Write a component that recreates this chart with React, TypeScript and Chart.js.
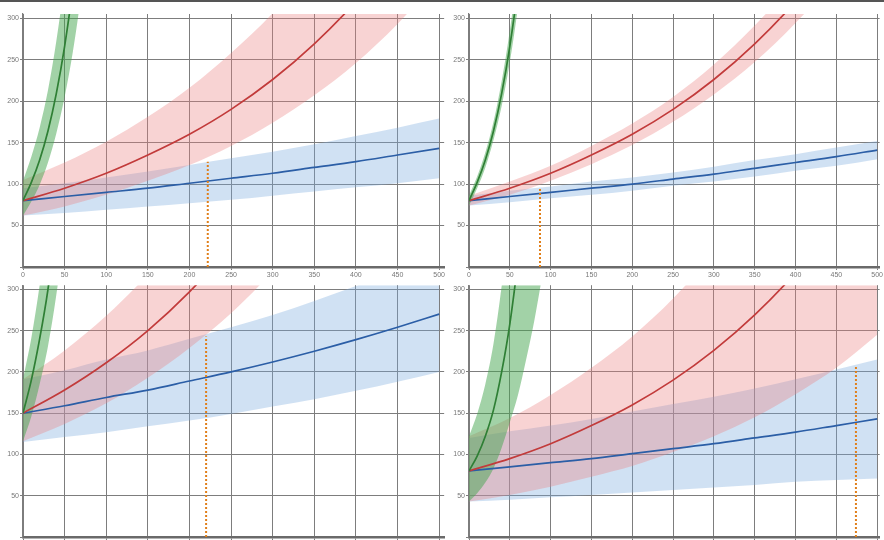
import React, { useEffect, useRef } from 'react';
import { Chart, registerables } from 'chart.js';

Chart.register(...registerables);

// shared x positions
const X_STEPS = [0, 50, 100, 150, 200, 250, 300, 350, 400, 450, 500];
const GREEN_X = [0, 10, 20, 30, 40, 50, 60, 70, 80, 90];

// top-left panel
const TL_GREEN = [80, 102, 129, 164, 209, 266, 338, 430, 550, 700];
const TL_GREEN_HI = [104, 133, 168, 213, 272, 346, 439, 559, 715, 910];
const TL_GREEN_LO = [62, 79, 99, 126, 161, 205, 260, 331, 424, 539];
const TL_RED = [80, 95, 113, 135, 160, 190, 226, 269, 320, 380, 453];
const TL_RED_HI = [105, 126, 151, 181, 216, 258, 306, 364, 433, 515, 612];
const TL_RED_LO = [62, 73, 87, 104, 123, 146, 174, 207, 246, 293, 349];
const TL_BLUE = [80, 85, 90, 95, 101, 107, 113, 120, 127, 135, 143];
const TL_BLUE_HI = [95, 101, 108, 115, 123, 131, 139, 148, 158, 168, 179];
const TL_BLUE_LO = [62, 65, 69, 73, 77, 81, 86, 91, 96, 101, 107];
const TL_MARK = [222, 127];

// top-right panel
const TR_GREEN = [80, 102, 129, 164, 209, 266, 338, 430, 550, 700];
const TR_GREEN_HI = [86, 109, 138, 175, 224, 285, 362, 460, 589, 749];
const TR_GREEN_LO = [74, 95, 120, 153, 194, 247, 314, 400, 512, 651];
const TR_RED = [80, 95, 113, 135, 160, 190, 226, 269, 320, 380, 453];
const TR_RED_HI = [86, 103, 122, 146, 173, 205, 244, 291, 346, 410, 489];
const TR_RED_LO = [74, 87, 104, 124, 147, 175, 208, 247, 294, 350, 417];
const TR_BLUE = [80, 85, 90, 95, 100, 106, 112, 119, 126, 133, 141];
const TR_BLUE_HI = [86, 92, 97, 103, 108, 114, 121, 129, 136, 144, 152];
const TR_BLUE_LO = [74, 78, 83, 87, 92, 98, 103, 109, 116, 122, 130];
const TR_MARK = [87, 96];

// bottom-left panel
const BL_GREEN = [150, 190, 240, 300, 380, 480, 600, 750, 940, 1180];
const BL_GREEN_HI = [191, 241, 305, 381, 483, 610, 762, 953, 1194, 1499];
const BL_GREEN_LO = [116, 146, 185, 231, 293, 370, 462, 578, 724, 909];
const BL_RED = [150, 178, 211, 250, 297, 352, 418, 496, 589, 699, 830];
const BL_RED_HI = [191, 226, 268, 318, 377, 447, 531, 630, 748, 888, 1054];
const BL_RED_LO = [116, 137, 162, 193, 229, 271, 322, 382, 454, 538, 639];
const BL_BLUE = [150, 159, 169, 178, 189, 200, 212, 225, 239, 254, 270];
const BL_BLUE_HI = [191, 202, 215, 226, 240, 254, 269, 286, 304, 323, 343];
const BL_BLUE_LO = [115, 121, 127, 134, 141, 149, 158, 167, 177, 188, 200];
const BL_MARK = [220, 243];

// bottom-right panel
const BR_GREEN = [80, 98, 122, 154, 200, 258, 335, 430, 550, 700];
const BR_GREEN_HI = [122, 149, 185, 234, 304, 392, 509, 654, 836, 1064];
const BR_GREEN_LO = [43, 53, 66, 83, 108, 139, 172, 215, 262, 318];
const BR_RED = [80, 95, 113, 135, 160, 190, 226, 269, 320, 380, 453];
const BR_RED_HI = [122, 144, 172, 205, 243, 289, 344, 409, 486, 578, 689];
const BR_RED_LO = [43, 51, 61, 73, 86, 103, 122, 145, 173, 205, 245];
const BR_BLUE = [80, 85, 90, 95, 101, 107, 113, 120, 127, 135, 143];
const BR_BLUE_HI = [120, 128, 135, 143, 152, 161, 170, 180, 191, 203, 215];
const BR_BLUE_LO = [43, 45, 48, 51, 54, 57, 60, 63, 67, 69, 71];
const BR_MARK = [474, 206];

const GREEN_LINE = '#2f7f35';
const GREEN_BAND = 'rgba(70, 165, 80, 0.5)';
const RED_LINE = '#c23b3b';
const RED_BAND = 'rgba(236, 130, 130, 0.35)';
const BLUE_LINE = '#2b5ea6';
const BLUE_BAND = 'rgba(120, 170, 222, 0.35)';
const MARK_COLOR = '#e07f1a';

type PanelData = {
  green: number[]; greenHi: number[]; greenLo: number[];
  red: number[]; redHi: number[]; redLo: number[];
  blue: number[]; blueHi: number[]; blueLo: number[];
  mark: number[];
};

const pts = (xs: number[], ys: number[]) => ys.map((y, i) => ({ x: xs[i], y }));

function buildDatasets(d: PanelData) {
  const band = (xs: number[], ys: number[], order: number, fill: any, bg: string) => ({
    data: pts(xs, ys),
    borderWidth: 0,
    borderColor: 'rgba(0,0,0,0)',
    backgroundColor: bg,
    pointRadius: 0,
    fill,
    order,
    cubicInterpolationMode: 'monotone' as const,
  });
  const line = (xs: number[], ys: number[], order: number, color: string) => ({
    data: pts(xs, ys),
    borderWidth: 1.7,
    borderColor: color,
    backgroundColor: color,
    pointRadius: 0,
    fill: false,
    order,
    cubicInterpolationMode: 'monotone' as const,
  });
  return [
    band(X_STEPS, d.blueLo, 30, false, BLUE_BAND),
    band(X_STEPS, d.blueHi, 30, '-1', BLUE_BAND),
    band(X_STEPS, d.redLo, 20, false, RED_BAND),
    band(X_STEPS, d.redHi, 20, '-1', RED_BAND),
    band(GREEN_X, d.greenLo, 10, false, GREEN_BAND),
    band(GREEN_X, d.greenHi, 10, '-1', GREEN_BAND),
    line(X_STEPS, d.blue, 5, BLUE_LINE),
    line(X_STEPS, d.red, 4, RED_LINE),
    line(GREEN_X, d.green, 3, GREEN_LINE),
    {
      data: [{ x: d.mark[0], y: 0 }, { x: d.mark[0], y: d.mark[1] }],
      borderWidth: 2,
      borderColor: MARK_COLOR,
      borderDash: [2, 2],
      pointRadius: 0,
      fill: false,
      order: 0,
    },
  ];
}

const FONT = { size: 7, family: "'Liberation Sans', Arial, sans-serif" };

function Panel(props: {
  left: number; top: number; width: number; height: number;
  padTop: number; padRight: number; xMax: number; xAxisH: number;
  data: PanelData;
}) {
  const ref = useRef<HTMLCanvasElement | null>(null);
  useEffect(() => {
    if (!ref.current) return;
    const chart = new Chart(ref.current, {
      type: 'line',
      data: { datasets: buildDatasets(props.data) as any },
      options: {
        animation: false,
        responsive: false,
        maintainAspectRatio: false,
        layout: { padding: { top: props.padTop, right: props.padRight, left: 0, bottom: 0 } },
        plugins: { legend: { display: false }, tooltip: { enabled: false } },
        scales: {
          x: {
            type: 'linear',
            min: 0,
            max: props.xMax,
            ticks: {
              stepSize: 50, includeBounds: false, font: FONT, color: '#777',
              padding: 1, maxRotation: 0, autoSkip: false,
            },
            grid: { color: '#7d7d7d', lineWidth: 1, tickLength: 3 },
            border: { color: '#6a6a6a', width: 2.5 },
            afterFit: (s: any) => { s.height = props.xAxisH; },
          },
          y: {
            type: 'linear',
            min: 0,
            max: 305,
            ticks: {
              stepSize: 50, includeBounds: false, font: FONT, color: '#777', padding: 1,
              callback: (v: any) => (v === 0 ? '' : String(v)),
            },
            grid: { color: '#7d7d7d', lineWidth: 1, tickLength: 3 },
            border: { color: '#7d7d7d', width: 1.2 },
            afterFit: (s: any) => { s.width = 23; },
          },
        },
      },
    });
    return () => chart.destroy();
  }, []);
  return (
    <canvas
      ref={ref}
      width={props.width}
      height={props.height}
      style={{ position: 'absolute', left: props.left, top: props.top, width: props.width, height: props.height }}
    />
  );
}

export default function App() {
  return (
    <div style={{ position: 'absolute', left: 0, top: 0, width: 884, height: 540, overflow: 'hidden', background: '#fff' }}>
      <Panel left={0} top={0} width={446} height={280} padTop={14} padRight={1} xMax={506} xAxisH={13}
        data={{ green: TL_GREEN, greenHi: TL_GREEN_HI, greenLo: TL_GREEN_LO, red: TL_RED, redHi: TL_RED_HI, redLo: TL_RED_LO, blue: TL_BLUE, blueHi: TL_BLUE_HI, blueLo: TL_BLUE_LO, mark: TL_MARK }} />
      <Panel left={446} top={0} width={438} height={280} padTop={14} padRight={0} xMax={503} xAxisH={13}
        data={{ green: TR_GREEN, greenHi: TR_GREEN_HI, greenLo: TR_GREEN_LO, red: TR_RED, redHi: TR_RED_HI, redLo: TR_RED_LO, blue: TR_BLUE, blueHi: TR_BLUE_HI, blueLo: TR_BLUE_LO, mark: TR_MARK }} />
      <Panel left={0} top={280} width={446} height={275} padTop={1} padRight={1} xMax={506} xAxisH={18}
        data={{ green: BL_GREEN, greenHi: BL_GREEN_HI, greenLo: BL_GREEN_LO, red: BL_RED, redHi: BL_RED_HI, redLo: BL_RED_LO, blue: BL_BLUE, blueHi: BL_BLUE_HI, blueLo: BL_BLUE_LO, mark: BL_MARK }} />
      <Panel left={446} top={280} width={438} height={275} padTop={1} padRight={0} xMax={503} xAxisH={18}
        data={{ green: BR_GREEN, greenHi: BR_GREEN_HI, greenLo: BR_GREEN_LO, red: BR_RED, redHi: BR_RED_HI, redLo: BR_RED_LO, blue: BR_BLUE, blueHi: BR_BLUE_HI, blueLo: BR_BLUE_LO, mark: BR_MARK }} />
      <div style={{ position: 'absolute', left: 0, top: 0, width: 884, height: 2, background: '#555' }} />
    </div>
  );
}
